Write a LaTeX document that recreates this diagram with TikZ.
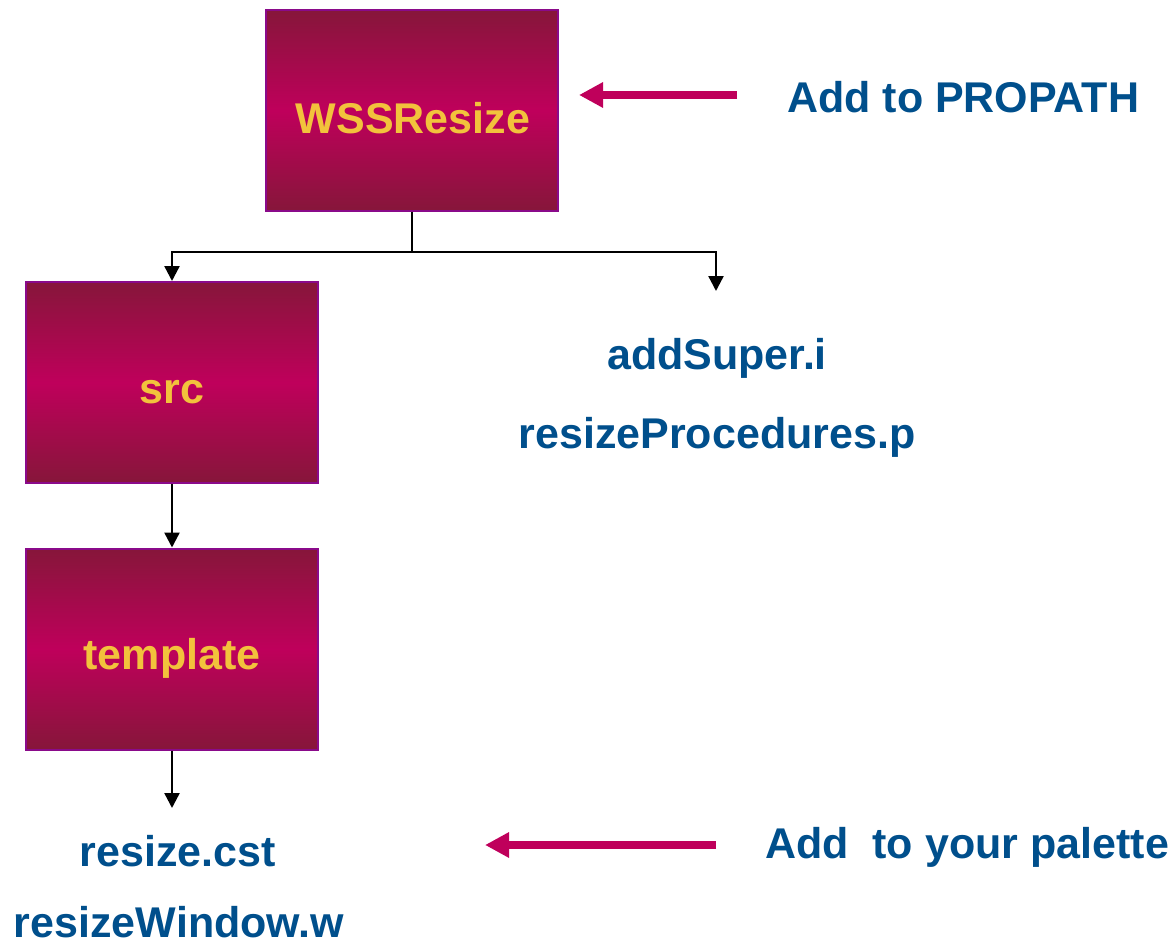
\documentclass[tikz,border=0pt]{standalone}
\usepackage{fontspec}
\setmainfont{Liberation Sans}
\usetikzlibrary{arrows.meta}
\definecolor{boxdark}{HTML}{86163A}
\definecolor{boxmid}{HTML}{BF005B}
\definecolor{boxedge}{HTML}{8A0A8A}
\definecolor{labelgold}{HTML}{F2C23C}
\definecolor{fileblue}{HTML}{004F8C}
\definecolor{pointer}{HTML}{BF005B}
\tikzset{
  folder/.style={draw=boxedge, line width=2pt, top color=boxdark, bottom color=boxdark,
    middle color=boxmid, minimum width=292pt, minimum height=201pt, inner sep=0pt},
  foldertext/.style={text=labelgold, font=\fontsize{43}{50}\selectfont\bfseries, inner sep=0pt},
  filename/.style={text=fileblue, font=\fontsize{43}{50}\selectfont\bfseries, inner sep=0pt},
  tree/.style={draw=black, line width=2.4pt, -{Triangle[length=15pt,width=15pt]}},
  treeline/.style={draw=black, line width=2.4pt},
  hint/.style={draw=pointer, line width=8pt, -{Triangle[length=24pt,width=24pt]}, shorten >=-2pt}
}
\begin{document}
\begin{tikzpicture}[x=1pt,y=-1pt]
\useasboundingbox (0,0) rectangle (1175,944);

% folders
\node[folder] (wss) at (412,110.5) {};
\node[foldertext] at (413,118) {WSSResize};
\node[folder] (src) at (172,382.5) {};
\node[foldertext] at (172,392) {src};
\node[folder] (tpl) at (172,649) {};
\node[foldertext] at (172,658) {template};

% files and notes
\node[filename] (addsuper) at (717,358) {addSuper.i};
\node[filename] (procs) at (717,437) {resizeProcedures.p};
\node[filename] (cst) at (178,851) {resize.cst};
\node[filename] (win) at (179,922) {resizeWindow.w};
\node[filename, anchor=west] (propath) at (787,97) {Add to PROPATH};
\node[filename, anchor=west] (palette) at (765,847) {Add\ \ to your palette};

% tree connectors
\coordinate (split) at (412,252);
\coordinate (incl) at (716,291);
\draw[treeline] (wss.south) -- (split);
\draw[tree] (split) -| (src.north);
\draw[tree] (split) -| (incl);
\draw[tree] (src.south) -- (tpl.north);
\coordinate (tplend) at (172,808);
\draw[tree] (tpl.south) -- (tplend);

% pointers
\coordinate (propathtail) at (737,95);
\coordinate (propathtip) at (581,95);
\draw[hint] (propathtail) -- (propathtip);
\coordinate (palettetail) at (716,845);
\coordinate (palettetip) at (487,845);
\draw[hint] (palettetail) -- (palettetip);
\end{tikzpicture}
\end{document}
